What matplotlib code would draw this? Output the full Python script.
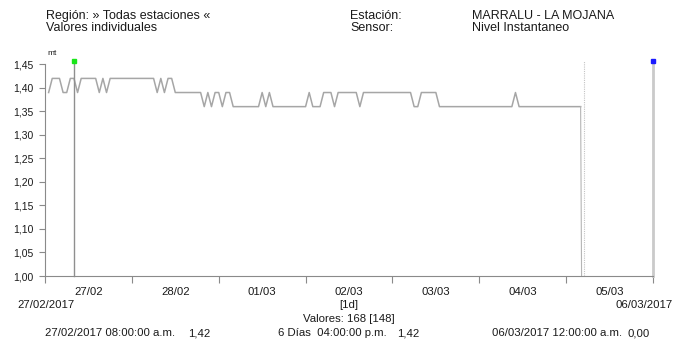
import matplotlib
matplotlib.use("Agg")  # no display
import matplotlib.pyplot as plt
import matplotlib.dates as mdates
import matplotlib.ticker as mticker
import pandas as pd

# hourly water level (mt), from 27/02/2017 01:00 to 05/03/2017 04:00
level = [
    1.39, 1.42, 1.42, 1.42, 1.39, 1.39, 1.42, 1.42, 1.39, 1.42, 1.42, 1.42,
    1.42, 1.42, 1.39, 1.42, 1.39, 1.42, 1.42, 1.42, 1.42, 1.42, 1.42, 1.42,
    1.42, 1.42, 1.42, 1.42, 1.42, 1.42, 1.39, 1.42, 1.39, 1.42, 1.42, 1.39,
    1.39, 1.39, 1.39, 1.39, 1.39, 1.39, 1.39, 1.36, 1.39, 1.36, 1.39, 1.39,
    1.36, 1.39, 1.39, 1.36, 1.36, 1.36, 1.36, 1.36, 1.36, 1.36, 1.36, 1.39,
    1.36, 1.39, 1.36, 1.36, 1.36, 1.36, 1.36, 1.36, 1.36, 1.36, 1.36, 1.36,
    1.39, 1.36, 1.36, 1.36, 1.39, 1.39, 1.39, 1.36, 1.39, 1.39, 1.39, 1.39,
    1.39, 1.39, 1.36, 1.39, 1.39, 1.39, 1.39, 1.39, 1.39, 1.39, 1.39, 1.39,
    1.39, 1.39, 1.39, 1.39, 1.39, 1.36, 1.36, 1.39, 1.39, 1.39, 1.39, 1.39,
    1.36, 1.36, 1.36, 1.36, 1.36, 1.36, 1.36, 1.36, 1.36, 1.36, 1.36, 1.36,
    1.36, 1.36, 1.36, 1.36, 1.36, 1.36, 1.36, 1.36, 1.36, 1.39, 1.36, 1.36,
    1.36, 1.36, 1.36, 1.36, 1.36, 1.36, 1.36, 1.36, 1.36, 1.36, 1.36, 1.36,
    1.36, 1.36, 1.36, 1.36,
]
times = pd.date_range("2017-02-27 01:00", periods=len(level), freq="h")

# first missing value (plotted as 0) and the two cursors
gap_time = pd.Timestamp("2017-03-05 05:00")
gap_value = 0.0
cursor_left = pd.Timestamp("2017-02-27 08:00")
cursor_right = pd.Timestamp("2017-03-06 00:00")
cursor_top = 1.456

start = pd.Timestamp("2017-02-27 00:00")
end = pd.Timestamp("2017-03-06 00:00")
day_ticks = pd.date_range(start, end, freq="D")
day_centers = day_ticks[:-1] + pd.Timedelta(hours=12)
day_labels = ["27/02", "28/02", "01/03", "02/03", "03/03", "04/03", "05/03"]

y_ticks = [1.00, 1.05, 1.10, 1.15, 1.20, 1.25, 1.30, 1.35, 1.40, 1.45]

header_left = ["Región: » Todas estaciones «", "Valores individuales"]
header_mid = ["Estación:", "Sensor:"]
header_right = ["MARRALU - LA MOJANA", "Nivel Instantaneo"]

W, H = 674, 345
line_gray = "#a6a6a6"
axis_gray = "#8a8a8a"
text_color = "#1a1a1a"

plt.rcParams["font.family"] = ["Liberation Sans", "DejaVu Sans"]

fig = plt.figure(figsize=(W / 100, H / 100), dpi=100)
ax = fig.add_axes([45 / W, (H - 276) / H, 608 / W, (276 - 64.3) / H])


def px(x, y):
    # pixel position (from top-left) -> figure fraction
    return x / W, 1 - y / H


def label(x, y, s, size=8.2, ha="left"):
    # y is the text baseline in pixels
    fig.text(*px(x, y), s, fontsize=size, color=text_color, ha=ha, va="baseline")


# main series
ax.plot(times, level, color=line_gray, linewidth=1.1)
# drop to the missing values
ax.plot([times[-1], gap_time], [level[-1], gap_value], color="#b5b5b5", linewidth=0.8)
ax.plot([gap_time, gap_time], [1.0, cursor_top], color="#c4c4c4",
        linewidth=0.8, linestyle=(0, (1, 1)), clip_on=False)

# cursors
ax.plot([cursor_left, cursor_left], [1.0, cursor_top], color="#8f8f8f",
        linewidth=1.0, clip_on=False)
ax.plot([cursor_right, cursor_right], [1.0, cursor_top], color="#cacaca",
        linewidth=2.0, clip_on=False)
ax.plot([cursor_left], [cursor_top], marker="s", markersize=3, color="#19e619",
        linestyle="none", clip_on=False, zorder=5)
ax.plot([cursor_right], [cursor_top], marker="s", markersize=3, color="#1a1aff",
        linestyle="none", clip_on=False, zorder=5)

ax.set_xlim(start, end)
ax.set_ylim(1.0, 1.45)

ax.xaxis.set_major_locator(mticker.FixedLocator(mdates.date2num(day_ticks)))
ax.xaxis.set_major_formatter(mticker.NullFormatter())
ax.xaxis.set_minor_locator(mticker.FixedLocator(mdates.date2num(day_centers)))
ax.xaxis.set_minor_formatter(mticker.FixedFormatter(day_labels))
ax.tick_params(axis="x", which="major", direction="out", length=5, width=0.8,
               color=axis_gray)
ax.tick_params(axis="x", which="minor", length=0, pad=8, labelsize=8.2,
               labelcolor=text_color)

ax.set_yticks(y_ticks)
ax.yaxis.set_major_formatter(
    mticker.FuncFormatter(lambda v, _: f"{v:.2f}".replace(".", ",")))
ax.tick_params(axis="y", direction="out", length=4.5, width=0.8, pad=4,
               color=axis_gray, labelsize=7.5, labelcolor=text_color)

for side in ["top", "right"]:
    ax.spines[side].set_visible(False)
for side in ["left", "bottom"]:
    ax.spines[side].set_color(axis_gray)
    ax.spines[side].set_linewidth(0.8)

# header
label(46, 19, header_left[0], size=9)
label(46, 31, header_left[1], size=9)
label(350, 19, header_mid[0], size=9)
label(350, 31, header_mid[1], size=9)
label(472, 19, header_right[0], size=9)
label(472, 31, header_right[1], size=9)
label(47, 55, "mt", size=6)

# range labels under the axis
label(17, 308, "27/02/2017")
label(615, 308, "06/03/2017")
label(349, 308, "[1d]", ha="center")
label(349, 322, "Valores: 168 [148]", ha="center")

# cursor readouts
label(45, 336, "27/02/2017 08:00:00 a.m.")
label(188, 336, "1,42")
label(278, 336, "6 Días  04:00:00 p.m.")
label(397, 336, "1,42")
label(492, 336, "06/03/2017 12:00:00 a.m.")
label(628, 336, "0,00")

fig.savefig("out.png", dpi=100, facecolor="white")
plt.close(fig)
